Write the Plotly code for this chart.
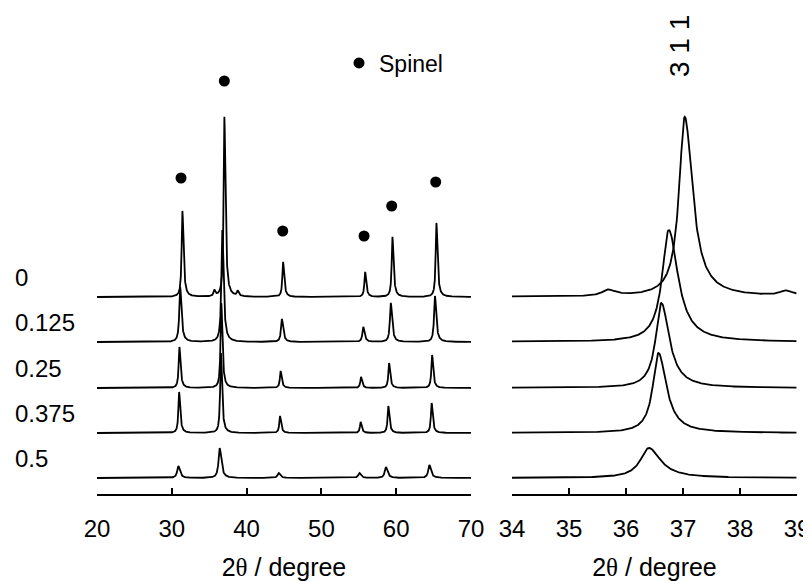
import numpy as np
import plotly.graph_objects as go

# ---------------- data ----------------
sample_labels = ["0", "0.125", "0.25", "0.375", "0.5"]
offsets = [197, 152, 106, 61, 16]          # vertical stacking of each pattern

# peak positions (2theta, degree) per pattern
peak_pos = [
    [31.42, 35.68, 37.03, 38.80, 44.88, 55.85, 59.50, 65.38],
    [31.12, 36.75, 44.72, 55.60, 59.28, 65.18],
    [31.02, 36.62, 44.55, 55.30, 59.05, 64.80],
    [30.98, 36.57, 44.47, 55.25, 58.95, 64.74],
    [30.87, 36.40, 44.29, 55.07, 58.62, 64.43],
]
# peak intensities (a.u.) per pattern
peak_int = [
    [86, 6, 180, 5, 35, 25, 60, 74],
    [55, 112, 23, 15, 39, 46],
    [41, 85, 17, 11, 25, 33],
    [41, 80, 17, 11, 27, 30],
    [12, 30, 5, 5, 11, 13],
]
# peak half widths (degree) per pattern
peak_hw = [0.12, 0.14, 0.12, 0.12, 0.18]

spinel_pos = [31.23, 37.02, 44.83, 55.70, 59.40, 65.28]
spinel_mark = [316, 413, 263, 258, 288, 312]

left_ticks = [20, 30, 40, 50, 60, 70]
right_ticks = [34, 35, 36, 37, 38, 39]

# ---------------- build profiles ----------------
two_theta = np.arange(20.0, 70.0001, 0.01)


def profile(pos, inten, hw):
    y = np.zeros_like(two_theta)
    for p, h in zip(pos, inten):
        w = np.where(two_theta < p, hw, hw * 1.4)
        y += h / (1.0 + ((two_theta - p) / w) ** 2)
    return y


FONT = "Liberation Sans, Arial, sans-serif"
W, H = 803, 573          # page body has an 8 px margin
fig = go.Figure()

right_mask = (two_theta >= 34) & (two_theta <= 39)
for lab, off, pos, inten, hw in zip(sample_labels, offsets, peak_pos, peak_int, peak_hw):
    y = profile(pos, inten, hw) + off
    fig.add_trace(go.Scatter(x=two_theta, y=y, mode="lines", xaxis="x", yaxis="y",
                             line=dict(color="black", width=1.8), showlegend=False,
                             name=lab, hoverinfo="skip"))
    fig.add_trace(go.Scatter(x=two_theta[right_mask], y=y[right_mask], mode="lines",
                             xaxis="x2", yaxis="y",
                             line=dict(color="black", width=1.8), showlegend=False,
                             name=lab, hoverinfo="skip"))

fig.add_trace(go.Scatter(x=spinel_pos, y=spinel_mark, mode="markers", xaxis="x", yaxis="y",
                         marker=dict(color="black", size=11, symbol="circle"),
                         name="Spinel", showlegend=True))

for lab, off in zip(sample_labels, offsets):
    fig.add_annotation(text=lab, xref="paper", x=5 / W, xanchor="left",
                       yref="y", y=off + 20, yanchor="middle", showarrow=False,
                       font=dict(family=FONT, size=24, color="black"))

fig.add_annotation(text="3 1 1", xref="x2", x=36.93, yref="y", y=448, textangle=-90,
                   showarrow=False, font=dict(family=FONT, size=28, color="black"))

title_text = "2<span style='font-family:Liberation Serif'>θ</span> / degree"
axis_common = dict(showline=True, linecolor="black", linewidth=1.5, ticks="inside",
                   ticklen=6, tickwidth=1.5, tickcolor="black", showgrid=False,
                   zeroline=False, anchor="y", automargin=False, ticklabelstandoff=12,
                   tickfont=dict(family=FONT, size=24, color="black"))

fig.update_layout(
    width=W, height=H,
    margin=dict(l=0, r=0, t=0, b=87, autoexpand=False),
    paper_bgcolor="white", plot_bgcolor="white",
    xaxis=dict(domain=[89 / W, 463 / W], range=[20, 70], tickvals=left_ticks,
               title=dict(text=title_text, font=dict(family=FONT, size=25, color="black"),
                          standoff=18),
               **axis_common),
    xaxis2=dict(domain=[504 / W, 789 / W], range=[34, 39], tickvals=right_ticks,
                title=dict(text=title_text, font=dict(family=FONT, size=25, color="black"),
                           standoff=18),
                **axis_common),
    yaxis=dict(range=[0, 486], visible=False, domain=[0, 1], automargin=False),
    legend=dict(x=331 / W, xanchor="left", y=1 - 55 / 486, yanchor="middle",
                bgcolor="rgba(0,0,0,0)", font=dict(family=FONT, size=23, color="black"),
                borderwidth=0),
    showlegend=True,
)

fig.write_html("out.html")
